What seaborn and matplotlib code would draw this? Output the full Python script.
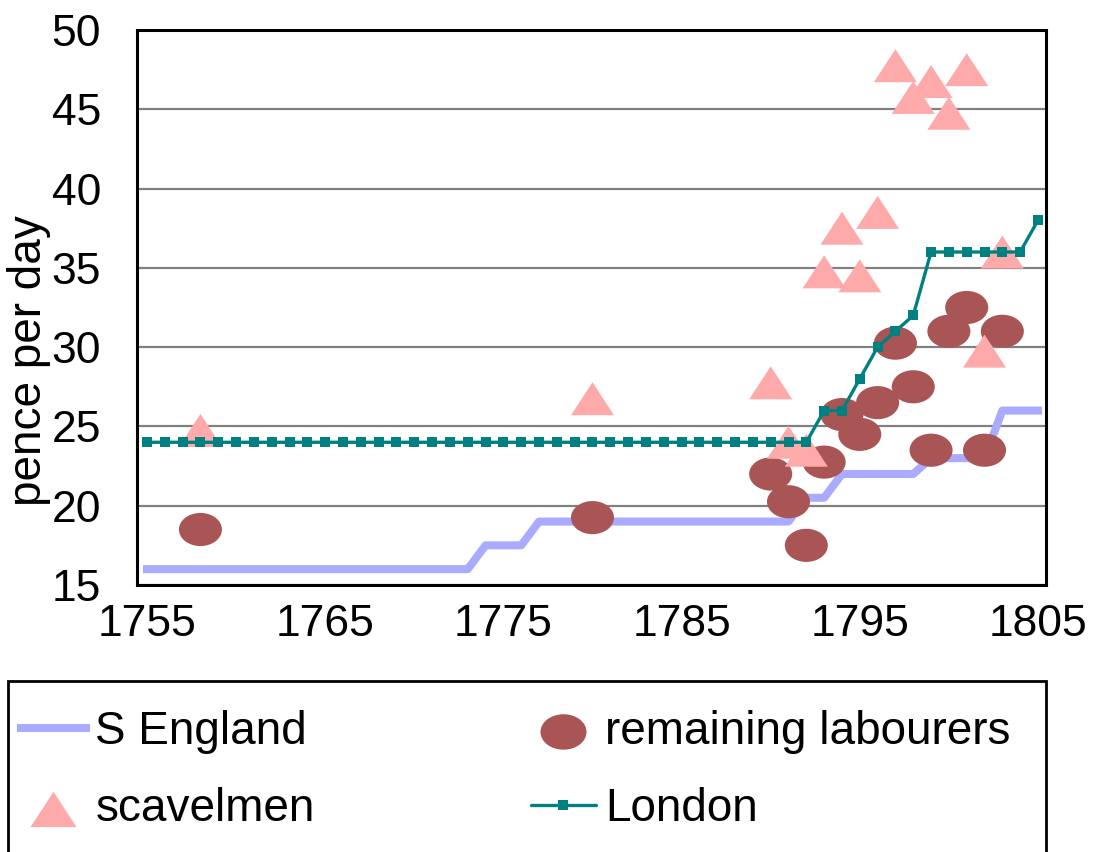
import numpy as np
import matplotlib
matplotlib.use("Agg")
import matplotlib.pyplot as plt
import seaborn as sns
from matplotlib.path import Path
from matplotlib.transforms import Affine2D
from matplotlib.patches import Rectangle
from matplotlib.ticker import MultipleLocator

# ---------------- data ----------------
years = list(range(1755, 1806))
s_england = [16, 16, 16, 16, 16, 16, 16, 16, 16, 16,
             16, 16, 16, 16, 16, 16, 16, 16, 16,
             17.5, 17.5, 17.5,
             19, 19, 19, 19, 19, 19, 19, 19, 19, 19, 19, 19, 19, 19, 19,
             20.5, 20.5,
             22, 22, 22, 22, 22,
             23, 23, 23, 23,
             26, 26, 26]
london = [24, 24, 24, 24, 24, 24, 24, 24, 24, 24,
          24, 24, 24, 24, 24, 24, 24, 24, 24, 24,
          24, 24, 24, 24, 24, 24, 24, 24, 24, 24,
          24, 24, 24, 24, 24, 24, 24, 24,
          26, 26, 28, 30, 31, 32,
          36, 36, 36, 36, 36, 36,
          38]
scavel_years = [1758, 1780, 1790, 1791, 1792, 1793, 1794, 1795, 1796, 1797,
                1798, 1799, 1800, 1801, 1802, 1803]
scavelmen = [24.75, 26.75, 27.75, 24, 23.5, 34.75, 37.5, 34.5, 38.5, 47.75,
             45.75, 46.75, 44.75, 47.5, 29.75, 36]
lab_years = [1758, 1780, 1790, 1791, 1792, 1793, 1794, 1795, 1796, 1797,
             1798, 1799, 1800, 1801, 1802, 1803]
labourers = [18.5, 19.25, 22, 20.25, 17.5, 22.75, 25.75, 24.5, 26.5, 30.25,
             27.5, 23.5, 31, 32.5, 23.5, 31]
x_tick_labels = [1755, 1765, 1775, 1785, 1795, 1805]
y_tick_values = [15, 20, 25, 30, 35, 40, 45, 50]

# ---------------- style ----------------
sns.set_style("white")
plt.rcParams['font.family'] = ['Liberation Sans', 'DejaVu Sans']
for k in ['text.color', 'axes.labelcolor', 'xtick.labelcolor', 'ytick.labelcolor']:
    plt.rcParams[k] = 'black'
FS_TICK = 32
FS = 33

fig = plt.figure(figsize=(10.96, 8.52), dpi=100)
ax = fig.add_axes([137/1096, 1 - 585/852, (1046 - 137)/1096, (585 - 30)/852])

ellipse = Path.unit_circle().transformed(Affine2D().scale(1, 0.77))
tri = Path([(0, 0.767), (-1, -0.767), (1, -0.767), (0, 0.767)],
           [Path.MOVETO, Path.LINETO, Path.LINETO, Path.CLOSEPOLY])

sns.lineplot(x=years, y=s_england, color='#AAAAFF', linewidth=5.8,
             label='S England', ax=ax, zorder=2, solid_capstyle='projecting')
sns.scatterplot(x=lab_years, y=labourers, marker=ellipse, s=31**2,
                color='#AA5555', linewidth=0, edgecolor='none',
                label='remaining labourers', ax=ax, zorder=3)
sns.scatterplot(x=scavel_years, y=scavelmen, marker=tri, s=31**2,
                color='#FFAAAA', linewidth=0, edgecolor='none',
                label='scavelmen', ax=ax, zorder=4)
sns.lineplot(x=years, y=london, color='#008080', linewidth=2.4, marker='s',
             markersize=7, markeredgewidth=0, label='London', ax=ax, zorder=5)

ax.set_xlim(1754.44, 1805.45)
ax.set_ylim(15, 50)
ax.set_xticks(x_tick_labels)
ax.set_xticklabels([str(v) for v in x_tick_labels])
ax.set_xticks(years, minor=True)
ax.set_yticks(y_tick_values)
ax.yaxis.set_minor_locator(MultipleLocator(2.5))

ax.tick_params(axis='x', which='both', direction='inout', length=13,
               width=1.6, color='#808080', labelsize=FS_TICK, pad=7)
ax.tick_params(axis='y', which='major', direction='inout', length=21.6,
               width=1.6, color='#808080', labelsize=FS_TICK, pad=15)
ax.tick_params(axis='y', which='minor', direction='inout', length=14.4,
               width=1.6, color='#808080')
ax.grid(axis='y', which='major', color='#808080', linewidth=1.6)
ax.set_axisbelow(True)
for sp in ax.spines.values():
    sp.set_color('black')
    sp.set_linewidth(2.2)

ax.set_xlabel('')
ax.set_ylabel('pence per day', fontsize=FS)
ax.yaxis.set_label_coords(-0.0946, 0.405)

handles, labels = ax.get_legend_handles_labels()
if ax.get_legend() is not None:
    ax.get_legend().remove()
hmap = dict(zip(labels, handles))
order = ['S England', 'scavelmen', 'remaining labourers', 'London']
fig.legend([hmap[k] for k in order], order, ncol=2, loc='upper left',
           bbox_to_anchor=(21/1096, 1 - 710/852), frameon=False, fontsize=FS,
           handlelength=1.42, handletextpad=0.2, columnspacing=4.72,
           labelspacing=0.73, borderaxespad=0, borderpad=0, markerscale=1.07)

fig.add_artist(Rectangle((8/1096, -0.05), (1046 - 8)/1096, (852 - 681)/852 + 0.05,
                         transform=fig.transFigure, fill=False,
                         edgecolor='black', linewidth=2))

fig.savefig('out.png', dpi=100)
